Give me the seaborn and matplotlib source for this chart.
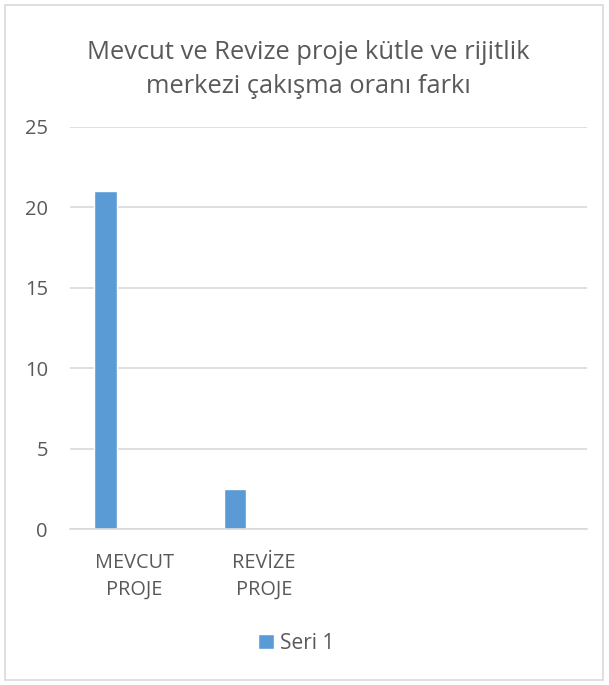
import numpy as np
import pandas as pd
import matplotlib
matplotlib.use("Agg")
import matplotlib.pyplot as plt
import seaborn as sns
from matplotlib.patches import Rectangle

# chart data (Excel chart with two empty extra series and two empty categories)
categories = ["MEVCUT\nPROJE", "REVİZE\nPROJE", " ", "  "]
values = [21, 2.5]
series_names = ["Seri 1", "Seri 2", "Seri 3"]
title = "Mevcut ve Revize proje kütle ve rijitlik\nmerkezi çakışma oranı farkı"
y_ticks = [0, 5, 10, 15, 20, 25]

df = pd.DataFrame({
    "kategori": categories[:len(values)],
    "deger": values,
    "seri": series_names[0],
})

sns.set_theme(style="white")
plt.rcParams["font.family"] = ["Open Sans", "DejaVu Sans"]

text_color = "#595959"
grid_color = "#d9d9d9"
bar_color = "#5b9bd5"

fig = plt.figure(figsize=(6.09, 6.85), dpi=100)
ax = fig.add_axes([0.115, 0.2273, 0.849, 0.5873])

sns.barplot(data=df, x="kategori", y="deger", hue="seri", order=categories,
            hue_order=series_names, palette=[bar_color] * 3, saturation=1,
            width=0.672, gap=0.223, dodge=True, legend=False, ax=ax)

ax.set_xlim(-0.5, 3.5)
ax.set_ylim(0, 25)
ax.set_yticks(y_ticks)
ax.set_yticklabels([str(t) for t in y_ticks], fontsize=14.5, color=text_color)
ax.set_xticks(range(len(categories)))
ax.set_xticklabels(categories, fontsize=14.3, color=text_color, linespacing=1.45)
ax.tick_params(axis="both", length=0)
ax.tick_params(axis="y", pad=16)
ax.tick_params(axis="x", pad=17)
ax.yaxis.grid(True, color=grid_color, linewidth=1.2)
ax.set_axisbelow(True)
for side in ["top", "right", "left"]:
    ax.spines[side].set_visible(False)
ax.spines["bottom"].set_color(grid_color)
ax.spines["bottom"].set_linewidth(1.2)
ax.set_xlabel("")
ax.set_ylabel("")

fig.text(0.5066, 0.898, title, ha="center", va="center", fontsize=18.4,
         color=text_color, linespacing=1.48)

# only the first series is shown in the legend
bars = ax.containers[0]
ax.legend([bars], [series_names[0]], loc="center", bbox_to_anchor=(0.487, 0.061),
          bbox_transform=fig.transFigure, frameon=False, fontsize=15,
          handlelength=0.75, handleheight=0.75, handletextpad=0.3,
          labelcolor=text_color)

fig.patches.append(Rectangle((0.009, 0.007), 0.981, 0.985, transform=fig.transFigure,
                             fill=False, edgecolor=grid_color, linewidth=1.2))

fig.savefig("out.png", dpi=100, facecolor="white")
